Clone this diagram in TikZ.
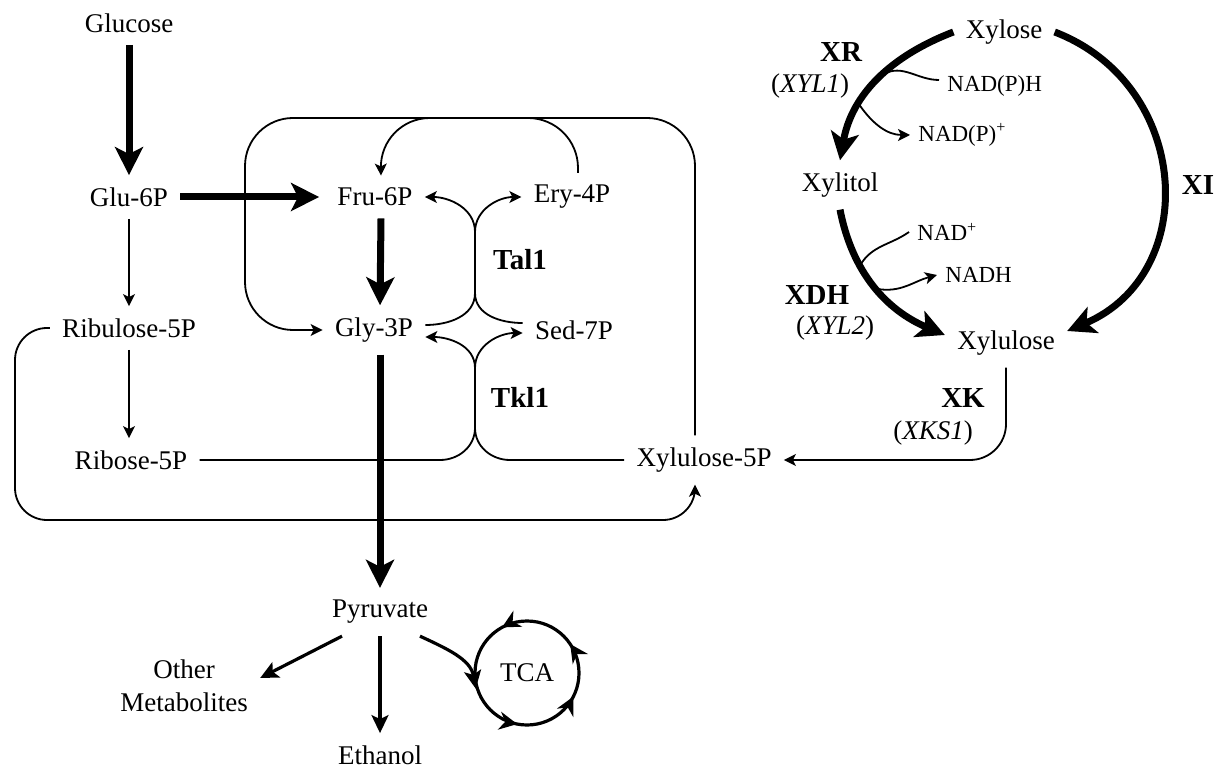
\documentclass[tikz,border=0pt]{standalone}
\usepackage{fontspec}
\setmainfont{Liberation Serif}
\usetikzlibrary{arrows.meta,decorations.markings}

\begin{document}
\begin{tikzpicture}[x=0.5pt,y=0.5pt,>=Stealth,
        met/.style={inner sep=6pt,font=\fontsize{13.5}{16.5}\selectfont},
        cof/.style={inner sep=4pt,anchor=west,font=\fontsize{11.5}{13}\selectfont},
        enz/.style={inner sep=2pt,font=\fontsize{14.5}{17}\selectfont\bfseries},
        gene/.style={inner sep=2pt,font=\fontsize{13.5}{16}\selectfont},
        plain/.style={line width=0.9pt},
        minor/.style={line width=0.9pt,-{Stealth[length=6pt,width=6pt,inset=1.5pt]}},
        mid/.style={line width=1.6pt,-{Stealth[length=9pt,width=8.5pt,inset=2pt]}},
        major/.style={line width=3.5pt,-{Stealth[length=14pt,width=14pt,inset=3.5pt]}},
        cycle/.style={draw,circle,line width=1.6pt,minimum size=52pt,postaction={decorate},
          decoration={markings,
            mark=at position .094 with {\arrow{Stealth[length=9pt,width=9pt]}},
            mark=at position .33 with {\arrow{Stealth[length=9pt,width=9pt]}},
            mark=at position .72 with {\arrow{Stealth[length=9pt,width=9pt]}},
            mark=at position .925 with {\arrow{Stealth[length=9pt,width=9pt]}}}}]
        \useasboundingbox (0,0) rectangle (1229,-769);
        % glycolysis and pentose phosphate pathway
        \node[met] (glc) at (129,-23) {Glucose};
        \node[met] (g6p) at (129,-197) {Glu-6P};
        \node[met] (f6p) at (375,-197) {Fru-6P};
        \node[met] (e4p) at (572,-197) {Ery-4P};
        \node[met] (ru5p) at (129,-328) {Ribulose-5P};
        \node[met] (gap) at (374,-330) {Gly-3P};
        \node[met] (s7p) at (574,-330) {Sed-7P};
        \node[met] (r5p) at (131,-460) {Ribose-5P};
        \node[met] (x5p) at (704,-460) {Xylulose-5P};
        \node[met] (pyr) at (380,-612) {Pyruvate};
        \node[met,align=center] (oth) at (184,-686) {Other\\Metabolites};
        \node[met] (etoh) at (380,-755) {Ethanol};
        \node[met,cycle] (tca) at (527,-673) {TCA};
        \node[enz] (tal) at (520,-260) {Tal1};
        \node[enz] (tkl) at (520,-397) {Tkl1};
        % xylose branch
        \node[met] (xyl) at (1004,-32) {Xylose};
        \node[met] (xoh) at (840,-185) {Xylitol};
        \node[met] (xu) at (1006,-343) {Xylulose};
        \node[cof] (nadph) at (939,-86) {NAD(P)H};
        \node[cof] (nadp) at (910,-135) {NAD(P)\textsuperscript{+}};
        \node[cof] (nad) at (909,-232) {NAD\textsuperscript{+}};
        \node[cof] (nadh) at (937,-275) {NADH};
        \node[enz] (xr) at (841,-52) {XR};
        \node[gene] (xyl1) at (810,-86) {(\textit{XYL1})};
        \node[enz] (xi) at (1198,-185) {XI};
        \node[enz] (xdh) at (817,-295) {XDH};
        \node[gene] (xyl2) at (835,-328) {(\textit{XYL2})};
        \node[enz] (xk) at (963,-398) {XK};
        \node[gene] (xks1) at (933,-433) {(\textit{XKS1})};

        \draw[major] (glc) -- (g6p);
        \draw[major] (g6p) -- ([xshift=-3pt]f6p.west);
        \draw[major] ([xshift=3pt]f6p.south) -- ([xshift=3pt]gap.north);
        \draw[major] ([xshift=3pt]gap.south) -- (pyr.north);
        \draw[minor] (g6p) -- (ru5p);
        \draw[minor] (ru5p.south) -- (ru5p.south |- r5p.north);
        \draw[mid] ([xshift=-19pt]pyr.south) -- ([yshift=4pt]oth.east);
        \draw[mid] (pyr) -- (etoh);
        \draw[mid] ([xshift=20pt]pyr.south) to[out=-25,in=100] (tca.197);
        % Tal1 and Tkl1
        \draw[minor] ([yshift=2.5pt]gap.east) to[out=0,in=-90] (475,-293) -- (475,-232) to[out=90,in=0] (f6p.east);
        \draw[minor] ([yshift=3.5pt]s7p.west) to[out=180,in=-90] (475,-293) -- (475,-232) to[out=90,in=180] (e4p.west);
        \draw[minor] (r5p.east) -- (440,-460) to[out=0,in=-90] (475,-428) -- (475,-368) to[out=90,in=0] ([yshift=-3.5pt]gap.east);
        \draw[minor] (x5p.west) -- (510,-460) to[out=180,in=-90] (475,-428) -- (475,-368) to[out=90,in=180] ([yshift=-1.5pt]s7p.west);
        % loops
        \draw[minor,rounded corners=24pt] ([xshift=-4.5pt]x5p.north) |- (245,-118) |- (gap.west);
        \draw[minor,rounded corners=25pt] ([xshift=3pt]e4p.north) |- (380,-118) -- ([xshift=3pt]f6p.north);
        \draw[minor,rounded corners=16pt] (ru5p.west) -| (15,-520) -| ([xshift=-4.5pt]x5p.south);
        % xylose to xylulose
        \draw[major] (xyl.west) to[out=201,in=80] coordinate[pos=.45] (xrin) coordinate[pos=.68] (xrout) (xoh.north);
        \draw[major] (xyl.east) to[out=-21,in=23,looseness=1.25] ([yshift=6pt]xu.east);
        \draw[major] (xoh.south) to[out=-79,in=157] coordinate[pos=.34] (xdhin) coordinate[pos=.52] (xdhout) ([yshift=4pt]xu.west);
        \draw[plain] ([yshift=3pt]nadph.west) to[out=180,in=30] (xrin);
        \draw[minor] (xrout) to[out=-55,in=180] (nadp.west);
        \draw[plain] (nad.west) to[out=215,in=60] (xdhin);
        \draw[minor] (xdhout) to[out=-10,in=195] (nadh.west);
        \draw[minor,rounded corners=18pt] (xu.south) |- (x5p.east);
\end{tikzpicture}
\end{document}
